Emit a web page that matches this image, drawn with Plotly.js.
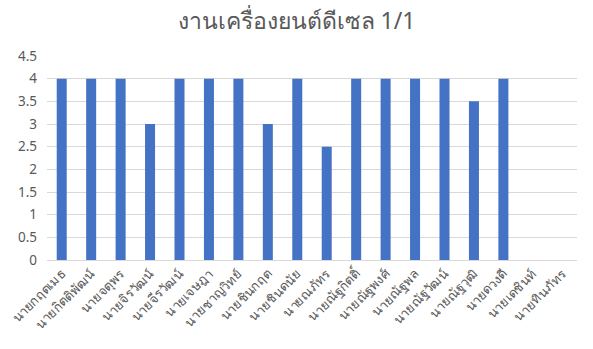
<!DOCTYPE html>
<html>
<head>
<meta charset="utf-8">
<script src="https://cdn.plot.ly/plotly-3.0.1.min.js"></script>
<style>
  html, body { margin: 0; padding: 0; background: #fff; }
  #chart { width: 593px; height: 349px; }
</style>
</head>
<body>
<div id="chart"></div>
<script>
// Students and their diesel-engine scores
const names = [
  "นายกฤตเมธ", "นายกิตติพัฒน์", "นายจตุพร", "นายจิรวัฒน์", "นายจีรวัฒน์",
  "นายเจษฎา", "นายชาญวิทย์", "นายชินกฤต", "นายชินดนัย", "นายณภัทร",
  "นายณัฐกิตติ์", "นายณัฐพงศ์", "นายณัฐพล", "นายณัฐวัฒน์", "นายณัฐวุฒิ",
  "นายดวงดี", "นายเดชินท์", "นายทินภัทร"
];
const scores = [4, 4, 4, 3, 4, 4, 4, 3, 4, 2.5, 4, 4, 4, 4, 3.5, 4, null, null];
const yTicks = [0, 0.5, 1, 1.5, 2, 2.5, 3, 3.5, 4, 4.5];

const textColor = "#595959";
const fontFamily = "Tahoma, 'Noto Sans', 'DejaVu Sans', sans-serif";

Plotly.newPlot("chart", [{
  type: "bar",
  x: names,
  y: scores,
  marker: { color: "#4472C4" },
  hoverinfo: "x+y"
}], {
  width: 593,
  height: 349,
  paper_bgcolor: "#fff",
  plot_bgcolor: "#fff",
  margin: { l: 47, r: 16, t: 56, b: 89 },
  bargap: 0.66,
  showlegend: false,
  title: {
    text: "งานเครื่องยนต์ดีเซล 1/1",
    font: { family: fontFamily, size: 23, color: textColor },
    x: 0.5, xanchor: "center", y: 0.94, yanchor: "middle"
  },
  xaxis: {
    type: "category",
    tickangle: -45,
    tickfont: { family: fontFamily, size: 13, color: textColor },
    showgrid: false,
    showline: true,
    linecolor: "#d9d9d9",
    linewidth: 1,
    ticks: ""
  },
  yaxis: {
    range: [0, 4.5],
    tickvals: yTicks,
    ticktext: yTicks.map(String),
    tickfont: { family: fontFamily, size: 13.5, color: textColor },
    showgrid: true,
    gridcolor: "#d9d9d9",
    gridwidth: 1,
    zeroline: false,
    showline: false,
    ticks: "",
    ticklabelstandoff: 9
  },
  font: { family: fontFamily, color: textColor }
}, { displayModeBar: false, staticPlot: true });
</script>
</body>
</html>
